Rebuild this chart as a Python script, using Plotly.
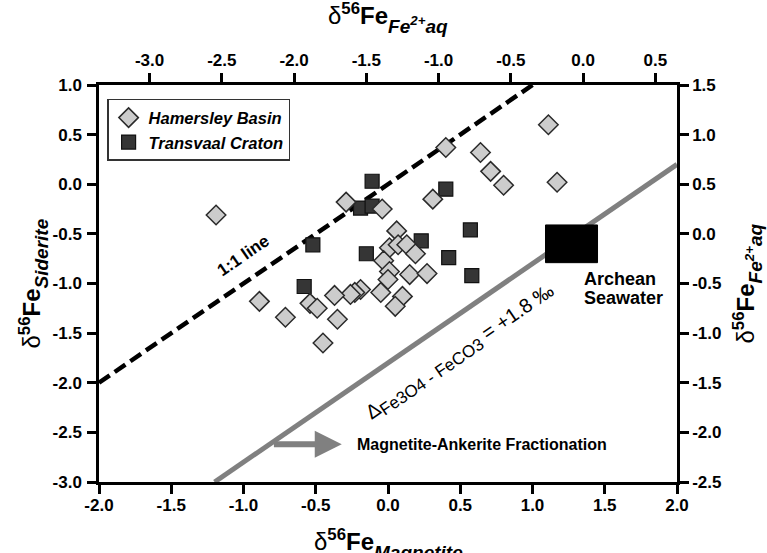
import math
import plotly.graph_objects as go

# Hamersley Basin samples (magnetite vs siderite delta56Fe, permil)
ham_x = [-1.19, -0.29, -0.04, 0.31, 0.40, 0.64, 0.71, 0.80, 1.11, 1.17,
         0.06, 0.01, 0.07, 0.13, 0.19, -0.03, 0.01, 0.00, 0.15, 0.27,
         -0.05, 0.10, 0.05, -0.19, -0.23, -0.26, -0.37, -0.35, -0.45, -0.54,
         -0.49, -0.71, -0.89]
ham_y = [-0.31, -0.18, -0.25, -0.15, 0.37, 0.32, 0.13, -0.01, 0.60, 0.02,
         -0.47, -0.64, -0.61, -0.61, -0.70, -0.77, -0.88, -0.96, -0.91, -0.90,
         -1.09, -1.13, -1.23, -1.06, -1.09, -1.11, -1.12, -1.36, -1.60, -1.20,
         -1.25, -1.34, -1.18]

# Transvaal Craton samples
tv_x = [-0.11, -0.19, -0.11, 0.40, 0.23, -0.52, -0.15, 0.57, 0.42, 0.58, -0.58]
tv_y = [0.03, -0.24, -0.22, -0.05, -0.57, -0.61, -0.70, -0.46, -0.74, -0.92, -1.03]

# reference lines
one_to_one_x = [-2.0, 1.0]
frac_offset = 1.8           # Delta Fe3O4 - FeCO3
frac_x = [-1.2, 2.0]

# Archean seawater field
seawater_x = [1.09, 1.45]
seawater_y = [-0.79, -0.41]

# axis ranges / ticks
x_range = [-2.0, 2.0]
y_range = [-3.0, 1.0]
x2_range = [-3.35, 0.65]
y2_range = [-2.5, 1.5]
x_ticks = [-2.0, -1.5, -1.0, -0.5, 0.0, 0.5, 1.0, 1.5, 2.0]
y_ticks = [-3.0, -2.5, -2.0, -1.5, -1.0, -0.5, 0.0, 0.5, 1.0]
x2_ticks = [-3.0, -2.5, -2.0, -1.5, -1.0, -0.5, 0.0, 0.5]
y2_ticks = [-2.5, -2.0, -1.5, -1.0, -0.5, 0.0, 0.5, 1.0, 1.5]


def labels(vals):
    return [f"{v:.1f}" for v in vals]


def iso_title(sub):
    """delta-56-Fe label with a large, well-lowered italic subscript."""
    return ("δ<sup><b>56</b></sup><b>Fe</b><sub><sub>"
            f"<span style='font-size:19px'><b><i>{sub}</i></b></span></sub></sub>")


W, H = 767, 553
M = dict(l=99, r=90, t=85, b=71)
plot_w = W - M["l"] - M["r"]
plot_h = H - M["t"] - M["b"]
slope_deg = math.degrees(math.atan((plot_h / (y_range[1] - y_range[0])) /
                                   (plot_w / (x_range[1] - x_range[0]))))

FONT = "Liberation Sans, Arial, sans-serif"
fig = go.Figure()

fig.add_trace(go.Scatter(
    x=one_to_one_x, y=one_to_one_x, mode="lines",
    line=dict(color="black", width=4.5, dash="13px,6px"),
    showlegend=False, hoverinfo="skip"))

fig.add_trace(go.Scatter(
    x=frac_x, y=[v - frac_offset for v in frac_x], mode="lines",
    line=dict(color="#808080", width=5),
    showlegend=False, hoverinfo="skip"))

fig.add_trace(go.Scatter(
    x=[seawater_x[0], seawater_x[1], seawater_x[1], seawater_x[0], seawater_x[0]],
    y=[seawater_y[0], seawater_y[0], seawater_y[1], seawater_y[1], seawater_y[0]],
    mode="lines", fill="toself", fillcolor="black", line=dict(color="black", width=1),
    showlegend=False, hoverinfo="skip"))

fig.add_trace(go.Scatter(
    x=tv_x, y=tv_y, mode="markers", name="Transvaal Craton",
    marker=dict(symbol="square", size=14, color="#353535",
                line=dict(color="#111111", width=1.2)),
    legendrank=2))

fig.add_trace(go.Scatter(
    x=ham_x, y=ham_y, mode="markers", name="Hamersley Basin",
    marker=dict(symbol="diamond", size=15, color="#cccccc",
                line=dict(color="#2a2a2a", width=1.5)),
    legendrank=1))

# secondary axes (Fe2+aq scales)
fig.add_trace(go.Scatter(x=[], y=[], xaxis="x2", yaxis="y2",
                         showlegend=False, hoverinfo="skip"))

axis_common = dict(showline=True, linewidth=2.5, linecolor="black",
                   ticks="outside", ticklen=9, tickwidth=2.5, tickcolor="black",
                   showgrid=False, zeroline=False,
                   tickfont=dict(family=FONT, size=17, color="black", weight="bold"))

fig.update_layout(
    width=W, height=H, margin=M,
    paper_bgcolor="white", plot_bgcolor="white",
    font=dict(family=FONT, color="black"),
    xaxis=dict(range=x_range, tickvals=x_ticks, ticktext=labels(x_ticks),
               side="bottom", anchor="y", ticklabelstandoff=-3, **axis_common),
    yaxis=dict(range=y_range, tickvals=y_ticks, ticktext=labels(y_ticks),
               side="left", anchor="x", ticklabelstandoff=2, **axis_common),
    xaxis2=dict(range=x2_range, tickvals=x2_ticks, ticktext=labels(x2_ticks),
                side="top", overlaying="x", anchor="y", **axis_common),
    yaxis2=dict(range=y2_range, tickvals=y2_ticks, ticktext=labels(y2_ticks),
                side="right", overlaying="y", anchor="x", **axis_common),
    legend=dict(x=0.014, y=0.965, xanchor="left", yanchor="top",
                bgcolor="white", bordercolor="#333333", borderwidth=1.5,
                font=dict(family=FONT, size=16.5, color="black",
                          weight="bold", style="italic")),
    showlegend=True,
)

title_font = dict(family=FONT, size=24, color="black")
fig.add_annotation(text=iso_title("Magnetite"),
                   xref="paper", yref="paper", x=0.5, y=0, yanchor="top",
                   yshift=-41, showarrow=False, font=title_font)
fig.add_annotation(text=iso_title("Fe<sup>2+</sup>aq"),
                   xref="paper", yref="paper", x=0.5, y=1, yanchor="bottom",
                   yshift=46, showarrow=False, font=title_font)
fig.add_annotation(text=iso_title("Siderite"),
                   xref="paper", yref="paper", x=0, y=0.5, xanchor="center",
                   xshift=-66, textangle=-90, showarrow=False, font=title_font)
fig.add_annotation(text=iso_title("Fe<sup>2+</sup>aq"),
                   xref="paper", yref="paper", x=1, y=0.5, xanchor="center",
                   xshift=70, textangle=-90, showarrow=False, font=title_font)

label_font = dict(family=FONT, size=17, color="black", weight="bold")
fig.add_annotation(text="1:1 line", x=-1.0, y=-0.72, textangle=-slope_deg,
                   showarrow=False, font=label_font)
fig.add_annotation(text="Δ<sub><span style='font-size:17px'>Fe3O4 - FeCO3</span></sub> = +1.8 ‰",
                   x=0.50, y=-1.70, textangle=-slope_deg, showarrow=False,
                   font=dict(family=FONT, size=20, color="black"))
seawater_font = dict(family=FONT, size=18, color="black", weight="bold")
fig.add_annotation(text="Archean", x=1.34, y=-0.955, xanchor="left",
                   showarrow=False, font=seawater_font)
fig.add_annotation(text="Seawater", x=1.34, y=-1.145, xanchor="left",
                   showarrow=False, font=seawater_font)

# fractionation direction arrow
fig.add_annotation(x=-0.32, y=-2.62, ax=-0.80, ay=-2.62, axref="x", ayref="y",
                   text="", showarrow=True, arrowhead=2, arrowsize=0.9,
                   arrowwidth=6, arrowcolor="#808080", standoff=0)
fig.add_annotation(text="Magnetite-Ankerite Fractionation", x=-0.23, y=-2.62,
                   xanchor="left", showarrow=False,
                   font=dict(family=FONT, size=16, color="black", weight="bold"))

fig.write_html("out.html")
